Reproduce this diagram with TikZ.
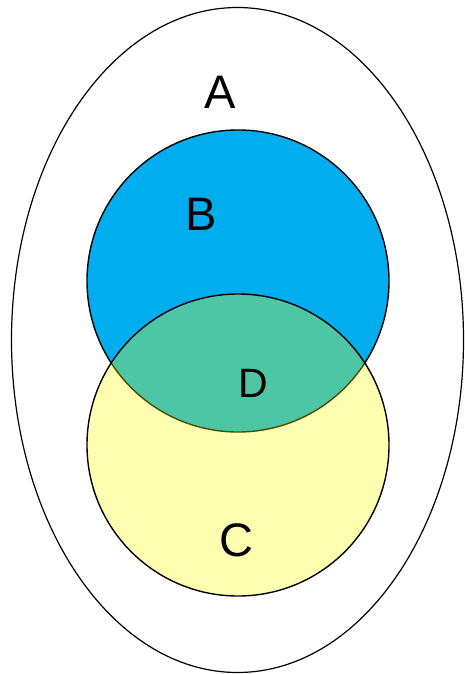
\documentclass[tikz,border=0pt]{standalone}
\usepackage{fontspec}
\setmainfont{Liberation Sans}
\definecolor{bblue}{RGB}{0,174,239}
\definecolor{cyel}{RGB}{255,255,0}
\begin{document}
\begin{tikzpicture}[x=1pt,y=-1pt,
  setline/.style={draw=black,line width=1.4pt},
  lab/.style={font=\fontsize{47}{47}\selectfont,inner sep=0pt},
  labsmall/.style={font=\fontsize{41}{41}\selectfont,inner sep=0pt}]
\useasboundingbox (0,0) rectangle (464,674);
\fill[white] (0,0) rectangle (464,674);
\draw[line width=1.2pt] (237.5,340) ellipse [x radius=226, y radius=332.5];
\filldraw[setline,fill=bblue] (238,281) circle [radius=151];
\filldraw[setline,fill=cyel,fill opacity=0.3] (238,445) circle [radius=151];
\node[lab] (A) at (220,92) {A};
\node[lab] (B) at (201,214) {B};
\node[labsmall] (D) at (253,383) {D};
\node[lab] (C) at (236,540) {C};
\end{tikzpicture}
\end{document}
